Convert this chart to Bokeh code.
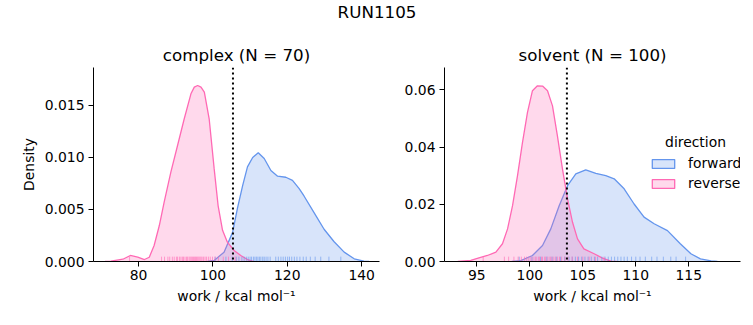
from bokeh.plotting import figure
from bokeh.models import (Span, Legend, LegendItem, Label, FixedTicker,
                          PrintfTickFormatter, Range1d)
from bokeh.layouts import column, row
from bokeh.embed import file_html
from bokeh.resources import INLINE

FONT = "DejaVu Sans"
BLUE = "#6495ED"
PINK = "#FF69B4"
NAN = float("nan")

suptitle = "RUN1105"
directions = ["forward", "reverse"]

# ---- complex panel ----
complex_title = "complex (N = 70)"
complex_rev_x = [71.0, 72.6, 75.8, 77.8, 79.8, 81.6, 82.9, 84.2, 85.6, 86.9, 88.7, 90.5, 92.3,
                 94.1, 95.0, 95.9, 96.8, 97.7, 99.0, 100.35, 101.4, 102.6, 103.9, 105.7, 107.5,
                 109.3, 111.1]
complex_rev_y = [0.0, 0.00003, 0.00022, 0.00058, 0.00041, 0.00019, 0.00041, 0.00154, 0.00346,
                 0.0057, 0.00859, 0.01115, 0.01372, 0.01612, 0.01676, 0.01692, 0.01676, 0.01628,
                 0.01372, 0.0089, 0.00538, 0.0030, 0.00186, 0.00106, 0.00058, 0.00019, 0.0]
complex_fwd_x = [98.5, 100.35, 103.0, 105.3, 106.6, 108.0, 109.3, 110.7, 112.2, 113.8, 115.6,
                 117.4, 119.6, 121.4, 123.2, 124.5, 127.2, 129.9, 132.6, 135.3, 138.0, 140.6,
                 142.0]
complex_fwd_y = [0.0, 0.0001, 0.0009, 0.0028, 0.0051, 0.0073, 0.0091, 0.0100, 0.01045, 0.0099,
                 0.00875, 0.0082, 0.0081, 0.0078, 0.0070, 0.0063, 0.0047, 0.0031, 0.0019, 0.0009,
                 0.00026, 0.00003, 0.0]
complex_rev_rug = [77.6, 86.2, 87.0, 87.9, 88.4, 89.1, 89.6, 90.2, 90.5, 91.0, 91.4, 91.8, 92.1,
                   92.5, 92.9, 93.2, 93.6, 93.9, 94.2, 94.5, 94.8, 95.1, 95.3, 95.6, 95.9, 96.2,
                   96.5, 96.8, 97.1, 97.5, 97.9, 98.3, 98.8, 99.3, 99.9, 100.6, 101.5, 102.8,
                   104.2, 106.0]
complex_fwd_rug = [100.6, 103.5, 105.2, 106.3, 107.0, 107.8, 108.4, 109.0, 109.5, 110.0, 110.4,
                   110.9, 111.3, 111.7, 112.1, 112.5, 112.9, 113.4, 113.8, 114.3, 114.8, 115.4,
                   116.9, 117.6, 118.3, 118.9, 119.5, 120.1, 120.6, 121.2, 121.9, 122.6, 123.4,
                   124.3, 125.1, 126.2, 127.5, 129.0, 131.2, 134.4]
complex_mean = 105.4
complex_xticks = [80, 100, 120, 140]
complex_yticks = [0.0, 0.005, 0.010, 0.015]

# ---- solvent panel ----
solvent_title = "solvent (N = 100)"
solvent_rev_x = [93.2, 94.43, 95.2, 96.0, 96.8, 97.42, 97.9, 98.37, 98.84, 99.31, 99.78, 100.25,
                 100.72, 101.2, 101.67, 102.14, 102.6, 103.08, 103.56, 104.03, 104.5, 105.1,
                 106.07, 106.86, 107.64, 108.2]
solvent_rev_y = [0.0, 0.0004, 0.0013, 0.0021, 0.0033, 0.0062, 0.0114, 0.0195, 0.0300, 0.0416,
                 0.0521, 0.0597, 0.0614, 0.0613, 0.0597, 0.0544, 0.0440, 0.0324, 0.0219, 0.0137,
                 0.0079, 0.0044, 0.0027, 0.0012, 0.0001, 0.0]
solvent_fwd_x = [98.3, 99.15, 100.25, 101.2, 101.98, 102.77, 103.56, 104.34, 105.28, 106.23,
                 107.17, 107.96, 108.9, 109.84, 110.78, 111.73, 112.99, 114.2, 115.2, 116.1,
                 117.1, 117.7]
solvent_fwd_y = [0.0, 0.0003, 0.0021, 0.0056, 0.0114, 0.0195, 0.0265, 0.0306, 0.0320, 0.0308,
                 0.0300, 0.0289, 0.0254, 0.0201, 0.0155, 0.0132, 0.0108, 0.0062, 0.0027, 0.0009,
                 0.0002, 0.0]
solvent_rev_rug = [95.6, 97.6, 98.0, 98.5, 98.9, 99.2, 99.5, 99.7, 99.9, 100.1, 100.3, 100.5,
                   100.6, 100.8, 100.9, 101.1, 101.2, 101.4, 101.5, 101.7, 101.9, 102.0, 102.2,
                   102.4, 102.6, 102.8, 103.0, 103.3, 103.6, 104.0, 104.5, 105.0, 105.6, 106.2,
                   107.0]
solvent_fwd_rug = [99.0, 100.2, 101.0, 101.6, 102.1, 102.5, 102.9, 103.3, 103.7, 104.0, 104.3,
                   104.6, 104.9, 105.2, 105.5, 105.8, 106.1, 106.4, 106.8, 107.1, 107.4, 107.7,
                   108.0, 108.3, 108.6, 108.9, 109.2, 109.6, 110.0, 110.4, 110.9, 111.5, 112.0,
                   112.6, 113.3, 113.8, 114.7]
solvent_mean = 103.5
solvent_xticks = [95, 100, 105, 110, 115]
solvent_yticks = [0.0, 0.02, 0.04, 0.06]

x_label = "work / kcal mol\u207b\u00b9"
y_label = "Density"
legend_title = "direction"


def style_axes(p, xticks, yticks, yfmt):
    p.outline_line_color = None
    p.xgrid.visible = False
    p.ygrid.visible = False
    for ax in (p.xaxis[0], p.yaxis[0]):
        ax.axis_line_color = "black"
        ax.axis_line_width = 1
        ax.major_tick_line_color = "black"
        ax.major_tick_out = 5
        ax.major_tick_in = 0
        ax.minor_tick_line_color = None
        ax.major_label_text_font = FONT
        ax.major_label_text_font_size = "13.9px"
        ax.major_label_text_color = "black"
        ax.axis_label_text_font = FONT
        ax.axis_label_text_font_size = "13.9px"
        ax.axis_label_text_font_style = "normal"
        ax.axis_label_text_color = "black"
    p.xaxis.ticker = FixedTicker(ticks=xticks)
    p.yaxis.ticker = FixedTicker(ticks=yticks)
    p.yaxis.formatter = PrintfTickFormatter(format=yfmt)
    p.xaxis.major_label_standoff = 3
    p.yaxis.major_label_standoff = 4
    p.xaxis.axis_label = x_label
    p.xaxis.axis_label_standoff = 5
    p.title.text_font = FONT
    p.title.text_font_size = "16.7px"
    p.title.text_font_style = "normal"
    p.title.text_color = "black"
    p.title.align = "center"
    p.title.standoff = 6


def panel(title, xr, yr, width, left, right, fwd, rev, rugs, mean, xticks, yticks, yfmt):
    p = figure(width=width, height=290, x_range=Range1d(*xr), y_range=Range1d(*yr),
               output_backend="svg", toolbar_location=None, title=title,
               min_border_left=left, min_border_right=right, min_border_top=32,
               min_border_bottom=64)
    renderers = {}
    for (xs, ys), color, name in ((fwd, BLUE, "forward"), (rev, PINK, "reverse")):
        p.varea(x=xs, y1=[0.0] * len(xs), y2=ys, fill_color=color, fill_alpha=0.25)
        p.line(x=xs, y=ys, line_color=color, line_width=1.3)
        # legend swatch only (not drawn in the frame)
        renderers[name] = p.quad(left=[NAN], right=[NAN], top=[NAN], bottom=[NAN],
                                 fill_color=color, fill_alpha=0.25, line_color=color,
                                 line_width=1.3)
    rug_h = 0.025 * (yr[1] - yr[0])
    for vals, color in ((rugs[0], BLUE), (rugs[1], PINK)):
        p.segment(x0=vals, y0=[0.0] * len(vals), x1=vals, y1=[rug_h] * len(vals),
                  line_color=color, line_alpha=0.6, line_width=1)
    p.add_layout(Span(location=mean, dimension="height", line_color="black",
                      line_width=2, line_dash="2 3"))
    style_axes(p, xticks, yticks, yfmt)
    return p, renderers


p1, r1 = panel(complex_title, (67.9, 144.8), (0.0, 0.01865), 380, 93, 1,
               (complex_fwd_x, complex_fwd_y), (complex_rev_x, complex_rev_y),
               (complex_fwd_rug, complex_rev_rug), complex_mean,
               complex_xticks, complex_yticks, "%.3f")
p1.yaxis.axis_label = y_label
p1.yaxis.axis_label_standoff = 5

p2, r2 = panel(solvent_title, (91.95, 119.88), (0.0, 0.0678), 373, 64, 13,
               (solvent_fwd_x, solvent_fwd_y), (solvent_rev_x, solvent_rev_y),
               (solvent_fwd_rug, solvent_rev_rug), solvent_mean,
               solvent_xticks, solvent_yticks, "%.2f")

legend = Legend(items=[LegendItem(label=d, renderers=[r2[d]]) for d in directions],
                location=(205, 70), orientation="vertical", border_line_color=None,
                background_fill_alpha=0, padding=0, margin=0, spacing=4,
                glyph_width=28, glyph_height=11, label_standoff=11,
                label_text_font=FONT, label_text_font_size="13.9px",
                label_text_color="black")
p2.add_layout(legend)
p2.add_layout(Label(x=251, y=120, x_units="screen", y_units="screen", text=legend_title,
                    text_align="center", text_baseline="middle", text_font=FONT,
                    text_font_size="13.9px", text_color="black"))

top = figure(width=753, height=35, x_range=Range1d(0, 1), y_range=Range1d(0, 1),
             output_backend="svg", toolbar_location=None, min_border=0)
top.axis.visible = False
top.grid.visible = False
top.outline_line_color = None
top.add_layout(Label(x=0.5, y=0.66, text=suptitle, text_align="center", text_baseline="middle",
                     text_font=FONT, text_font_size="16.7px", text_color="black"))

layout = column(top, row(p1, p2))
open("out.html", "w").write(file_html(layout, INLINE))
